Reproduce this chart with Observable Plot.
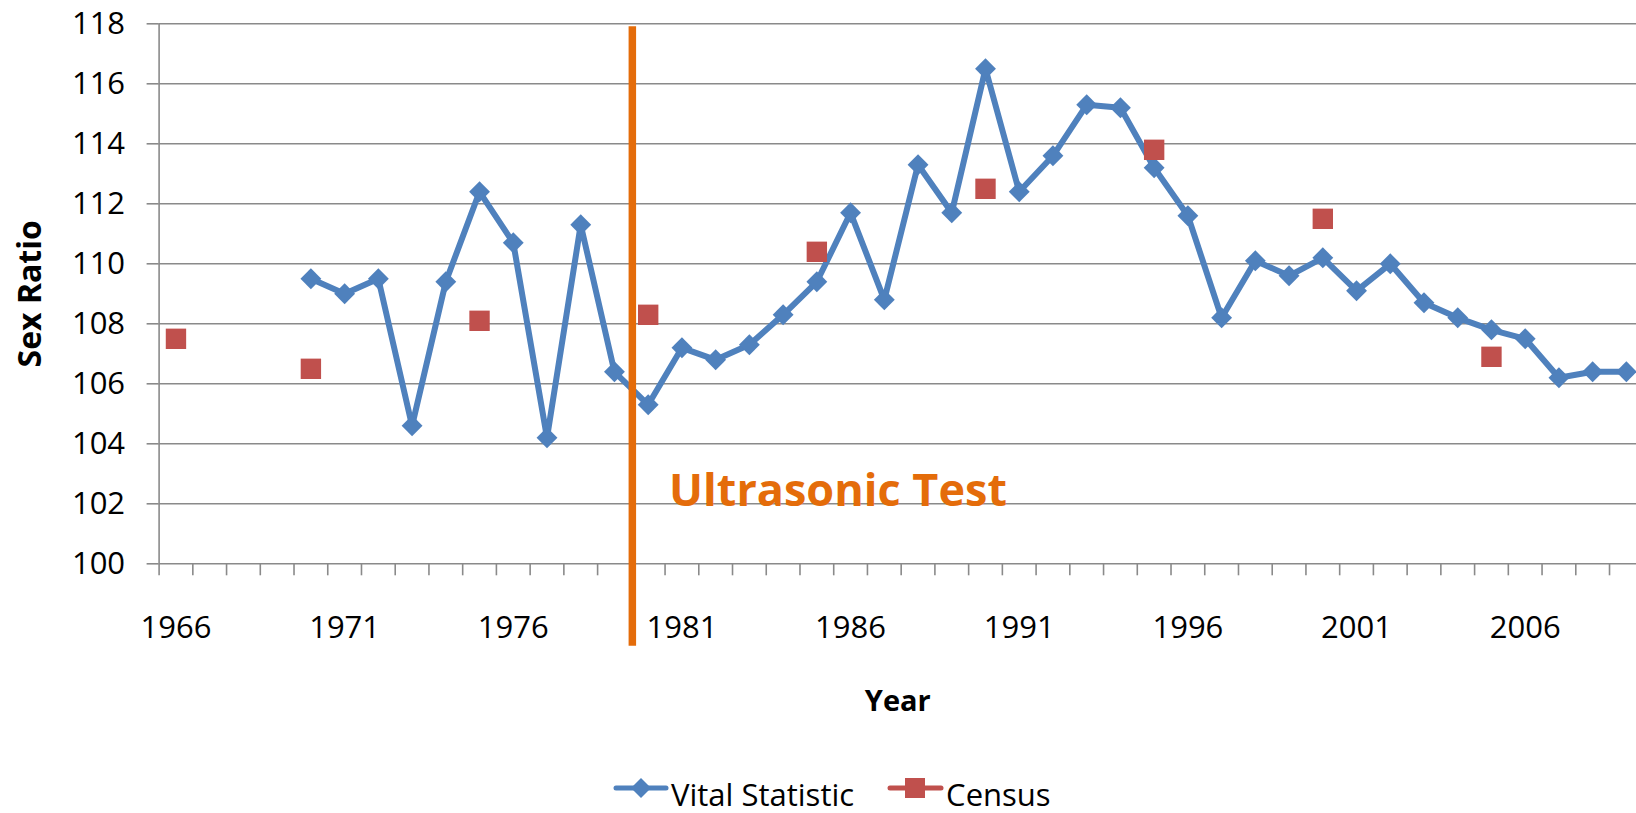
<!DOCTYPE html>
<html><head><meta charset="utf-8">
<script src="https://cdn.jsdelivr.net/npm/d3@7"></script>
<script src="https://cdn.jsdelivr.net/npm/@observablehq/plot@0.6"></script>
<style>
html,body{margin:0;padding:0;background:#fff;overflow:hidden;}
#wrap{position:relative;width:1636px;height:813px;font-family:"Open Sans",sans-serif;}
#legend{position:absolute;left:613px;top:773px;display:flex;align-items:center;font-size:31px;color:#000;white-space:nowrap;}
#legend .item{display:flex;align-items:center;}
#legend svg{display:block;margin-bottom:12px;}
#legend .lab{margin-left:2px;}
</style></head><body><div id="wrap"><div id="chart"></div><div id="legend"></div></div>
<script>
const years = [1966,1967,1968,1969,1970,1971,1972,1973,1974,1975,1976,1977,1978,1979,1980,1981,1982,1983,1984,1985,1986,1987,1988,1989,1990,1991,1992,1993,1994,1995,1996,1997,1998,1999,2000,2001,2002,2003,2004,2005,2006,2007,2008,2009];
const vitalYears = [1970,1971,1972,1973,1974,1975,1976,1977,1978,1979,1980,1981,1982,1983,1984,1985,1986,1987,1988,1989,1990,1991,1992,1993,1994,1995,1996,1997,1998,1999,2000,2001,2002,2003,2004,2005,2006,2007,2008,2009];
const vitalValues = [109.5,109.0,109.5,104.6,109.4,112.4,110.7,104.2,111.3,106.4,105.3,107.2,106.8,107.3,108.3,109.4,111.7,108.8,113.3,111.7,116.5,112.4,113.6,115.3,115.2,113.2,111.6,108.2,110.1,109.6,110.2,109.1,110.0,108.7,108.2,107.8,107.5,106.2,106.4,106.4];
const censusYears = [1966,1970,1975,1980,1985,1990,1995,2000,2005];
const censusValues = [107.5,106.5,108.1,108.3,110.4,112.5,113.8,111.5,106.9];
const yTicks = [100,102,104,106,108,110,112,114,116,118];
const xLabelYears = [1966,1971,1976,1981,1986,1991,1996,2001,2006];
const seriesNames = ["Vital Statistic","Census"];
const annotationText = "Ultrasonic Test";
const ultrasoundYear = 1979.53;
const yTitle = "Sex Ratio";
const xTitle = "Year";

const blue = "#4F81BD", red = "#C0504D", orange = "#E46C0A", grid = "#8A8A8A";

const vital = vitalYears.map((year, i) => ({year, value: vitalValues[i]}));
const census = censusYears.map((year, i) => ({year, value: censusValues[i]}));
const boundaries = years.map(y => y - 0.5);

const chart = Plot.plot({
  width: 1636, height: 760,
  marginLeft: 158.6, marginRight: 0, marginTop: 23.3, marginBottom: 196.7,
  style: {fontFamily: '"Open Sans", sans-serif', background: "#fff", color: "#000", overflow: "visible"},
  x: {domain: [1965.5, 2009.3]},
  y: {domain: [100, 118]},
  marks: [
    Plot.gridY(yTicks, {stroke: grid, strokeOpacity: 1, strokeWidth: 1.6}),
    Plot.ruleX([1965.5], {stroke: grid, strokeWidth: 1.6}),
    Plot.axisY(yTicks, {tickSize: 12, tickPadding: 22, fontSize: 31, stroke: grid, strokeWidth: 1.6, label: null}),
    Plot.axisX(boundaries, {tickSize: 12, tickFormat: () => "", stroke: grid, strokeWidth: 1.6, label: null}),
    Plot.axisX(xLabelYears, {tickSize: 0, tickPadding: 52, tickFormat: d => String(d), fontSize: 31, label: null}),
    Plot.text([yTitle], {text: d => d, frameAnchor: "left", textAnchor: "middle", lineAnchor: "middle", dx: -128, rotate: -90, fontWeight: "bold", fontSize: 32}),
    Plot.text([xTitle], {text: d => d, frameAnchor: "bottom", textAnchor: "middle", lineAnchor: "middle", dy: 138, fontWeight: "bold", fontSize: 29}),
    Plot.line(vital, {x: "year", y: "value", stroke: blue, strokeWidth: 6, strokeLinejoin: "round"}),
    Plot.dot(vital, {x: "year", y: "value", symbol: "diamond2", r: 9.4, fill: blue}),
    Plot.dot(census, {x: "year", y: "value", symbol: "square", r: 11.5, fill: red}),
    Plot.ruleX([ultrasoundYear], {y1: 117.9, y2: 97.25, stroke: orange, strokeWidth: 7.5}),
    Plot.text([annotationText], {text: d => d, x: 1980.62, y: 102.4, textAnchor: "start", fill: orange, fontWeight: "bold", fontSize: 45})
  ]
});
document.getElementById("chart").appendChild(chart);

const legend = document.getElementById("legend");
const swatches = [
  `<svg width="56" height="24"><line x1="3" y1="12" x2="53" y2="12" stroke="${blue}" stroke-width="5" stroke-linecap="round"/><path d="M28 2 L38 12 L28 22 L18 12 Z" fill="${blue}"/></svg>`,
  `<svg width="57" height="24"><line x1="3" y1="12" x2="54" y2="12" stroke="${red}" stroke-width="5" stroke-linecap="round"/><rect x="18" y="2" width="20" height="20" fill="${red}"/></svg>`
];
seriesNames.forEach((name, i) => {
  const item = document.createElement("div");
  item.className = "item";
  if (i > 0) item.style.marginLeft = "33px";
  item.innerHTML = swatches[i] + `<span class="lab">${name}</span>`;
  legend.appendChild(item);
});
</script></body></html>
